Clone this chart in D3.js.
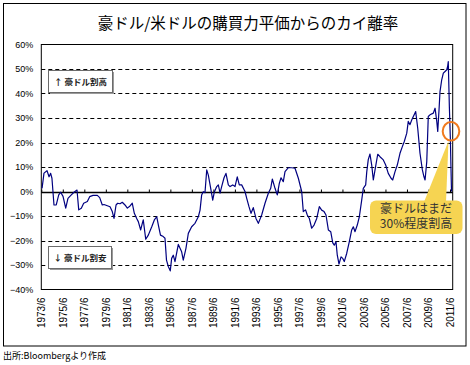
<!DOCTYPE html>
<html><head><meta charset="utf-8">
<script src="https://cdn.jsdelivr.net/npm/d3@7"></script>
<style>
html,body{margin:0;padding:0;background:#fff;}
svg{display:block;}
</style>
</head><body>
<svg id="chart" width="470" height="365"></svg>
<script>
// ---- data (decimal year, deviation %) ----
const years = [1973.57,1973.75,1974.03,1974.22,1974.37,1974.49,1974.68,1974.89,1975.12,1975.30,1975.52,1975.77,1975.98,1976.29,1976.54,1976.82,1976.98,1977.22,1977.44,1977.78,1978.00,1978.31,1978.71,1978.93,1979.17,1979.33,1979.89,1980.10,1980.26,1980.45,1980.60,1980.82,1981.03,1981.28,1981.50,1981.75,1981.96,1982.15,1982.37,1982.52,1982.74,1982.89,1982.98,1983.21,1983.45,1983.77,1984.01,1984.23,1984.40,1984.58,1984.84,1985.00,1985.14,1985.31,1985.49,1985.62,1985.77,1985.93,1986.24,1986.55,1986.70,1986.95,1987.17,1987.48,1987.79,1988.10,1988.26,1988.41,1988.56,1988.72,1988.88,1989.03,1989.25,1989.44,1989.59,1989.81,1989.96,1990.12,1990.27,1990.49,1990.67,1990.89,1991.05,1991.30,1991.51,1991.72,1991.91,1992.13,1992.44,1992.60,1992.81,1993.00,1993.21,1993.46,1993.68,1993.99,1994.30,1994.61,1994.83,1994.98,1995.23,1995.44,1995.63,1995.79,1996.00,1996.16,1996.47,1996.78,1997.09,1997.40,1997.71,1997.86,1998.07,1998.23,1998.42,1998.64,1998.86,1999.11,1999.35,1999.57,1999.79,1999.97,2000.19,2000.41,2000.60,2000.74,2000.90,2001.02,2001.18,2001.37,2001.53,2001.67,2001.90,2002.14,2002.36,2002.51,2002.67,2002.88,2003.07,2003.29,2003.44,2003.66,2003.76,2003.90,2004.06,2004.22,2004.37,2004.53,2004.78,2004.99,2005.30,2005.52,2005.76,2006.02,2006.17,2006.39,2006.60,2006.85,2007.07,2007.25,2007.48,2007.62,2007.78,2007.94,2008.09,2008.31,2008.50,2008.71,2008.93,2009.08,2009.18,2009.34,2009.48,2009.64,2009.95,2010.11,2010.27,2010.36,2010.48,2010.57,2010.73,2010.88,2011.04,2011.20,2011.29,2011.34,2011.44,2011.53,2011.64];
const values = [1.3,7.5,8.5,6.0,7.4,5.4,-5.5,-5.5,-1.4,-0.3,-2.0,-6.8,-2.8,-1.4,-0.3,0.6,-7.5,-6.8,-4.8,-4.1,-2.1,-1.6,-1.6,-2.5,-5.5,-5.3,-6.2,-8.2,-11.0,-5.5,-4.8,-5.0,-4.4,-5.5,-6.8,-5.9,-4.8,-8.9,-11.0,-12.3,-15.7,-13.0,-11.6,-19.5,-17.8,-14.4,-11.6,-10.3,-14.0,-17.8,-18.4,-19.1,-28.0,-30.6,-32.4,-27.3,-26.0,-28.6,-21.6,-24.6,-28.0,-23.2,-17.1,-14.4,-13.0,-10.3,-7.6,-1.4,-0.1,-0.5,8.8,6.7,1.3,-3.5,-0.2,2.0,2.7,-0.7,2.0,5.6,7.4,2.7,2.0,2.7,2.0,6.0,2.7,2.7,0.0,-2.8,-6.2,-8.9,-6.6,-11.0,-13.0,-9.6,-4.8,-0.7,1.3,5.1,1.3,-1.4,3.3,5.6,4.0,8.1,9.7,9.7,9.5,5.4,0.0,-8.2,-7.5,-9.6,-11.0,-15.0,-13.7,-11.0,-6.2,-7.6,-8.2,-9.6,-15.7,-16.4,-21.0,-21.9,-20.5,-26.0,-29.6,-26.7,-27.3,-28.6,-25.2,-20.5,-15.7,-14.4,-16.4,-13.7,-10.3,-3.5,1.3,2.7,8.0,13.0,15.3,10.8,4.7,8.8,15.2,14.2,12.9,10.8,7.4,5.4,4.7,8.1,10.8,15.6,18.3,20.4,23.8,28.6,27.3,29.2,30.6,32.6,25.8,15.6,8.8,6.0,4.7,12.2,30.6,31.3,32.0,34.0,28.6,24.5,33.4,40.8,45.6,48.3,49.0,49.7,51.3,53.0,34.6,22.0,0.0];
const xTickYears = [1973.5,1975.5,1977.5,1979.5,1981.5,1983.5,1985.5,1987.5,1989.5,1991.5,1993.5,1995.5,1997.5,1999.5,2001.5,2003.5,2005.5,2007.5,2009.5,2011.5];
const xTickLabels = ["1973/6","1975/6","1977/6","1979/6","1981/6","1983/6","1985/6","1987/6","1989/6","1991/6","1993/6","1995/6","1997/6","1999/6","2001/6","2003/6","2005/6","2007/6","2009/6","2011/6"];
const yTicks = [-40,-30,-20,-10,0,10,20,30,40,50,60];
const title = "豪ドル/米ドルの購買力平価からのカイ離率";
const noteHigh = "↑ 豪ドル割高";
const noteLow = "↓ 豪ドル割安";
const calloutLines = ["豪ドルはまだ","30%程度割高"];
const source = "出所:Bloombergより作成";

const svg = d3.select("#chart");
const jp = "'Noto Sans CJK JP','Noto Sans',sans-serif";
const num = "'Liberation Sans',Arial,sans-serif";

const L = 41.3, R = 452.7, T = 44.5, B = 289.5;
const x = d3.scaleLinear().domain([1973.5, 2011.5]).range([L, 450]);
const y = d3.scaleLinear().domain([-40, 60]).range([B, T]);

// outer frame
svg.append("rect").attr("x",3.5).attr("y",3.5).attr("width",462.5).attr("height",342.5)
  .attr("fill","#fff").attr("stroke","#000").attr("stroke-width",1);

// title
svg.append("text").attr("x",248).attr("y",29).attr("text-anchor","middle")
  .attr("font-family",jp).attr("font-size",15.5).attr("fill","#000").text(title);

// dashed grid
svg.append("g").selectAll("line").data(yTicks.filter(v => v !== 0 && v !== -40 && v !== 60))
  .join("line").attr("x1",L).attr("x2",R).attr("y1",d=>Math.round(y(d))+0.5).attr("y2",d=>Math.round(y(d))+0.5)
  .attr("stroke","#000").attr("stroke-width",1).attr("stroke-dasharray","4,3");

// plot border
svg.append("rect").attr("x",L).attr("y",T).attr("width",R-L).attr("height",B-T)
  .attr("fill","none").attr("stroke","#000").attr("stroke-width",1);

// y axis labels
const yAxis = svg.append("g").attr("transform",`translate(${L},0)`)
  .call(d3.axisLeft(y).tickValues(yTicks).tickSize(0).tickPadding(8)
    .tickFormat(d => (d < 0 ? "\u2212" + Math.abs(d) : d) + "%"));
yAxis.select(".domain").remove();
yAxis.selectAll("text").attr("font-family",num).attr("font-size",9).attr("fill","#000");

// zero axis with ticks above
const zAxis = svg.append("g").attr("transform",`translate(0,${Math.round(y(0))+0.5})`)
  .call(d3.axisTop(x).tickValues(xTickYears).tickSize(3).tickSizeOuter(0).tickFormat(""));
zAxis.select(".domain").attr("d",`M${L},0H${R}`).attr("stroke","#000").attr("stroke-width",1.3);
zAxis.selectAll(".tick line").attr("stroke","#000");

// x labels (rotated) below bottom
const xAxis = svg.append("g").attr("transform",`translate(0,${B})`)
  .call(d3.axisBottom(x).tickValues(xTickYears).tickSize(0).tickFormat((d,i)=>xTickLabels[i]));
xAxis.select(".domain").remove();
xAxis.selectAll("text").attr("transform","rotate(-90)").attr("text-anchor","end")
  .attr("x",-8).attr("y",0).attr("dy","0.35em")
  .attr("font-family",num).attr("font-size",10).attr("fill","#000");

// line
const line = d3.line().x((d,i)=>x(years[i])).y(d=>y(d));
svg.append("path").datum(values).attr("d",line).attr("fill","none")
  .attr("stroke","#000080").attr("stroke-width",1.2).attr("stroke-linejoin","round");

// note boxes
function noteBox(bx, by, w, h, txt){
  svg.append("rect").attr("x",bx+1.5).attr("y",by+1.5).attr("width",w).attr("height",h).attr("fill","#9a9a9a");
  svg.append("rect").attr("x",bx).attr("y",by).attr("width",w).attr("height",h)
    .attr("fill","#fff").attr("stroke","#6b6b6b").attr("stroke-width",1);
  svg.append("text").attr("x",bx+w/2).attr("y",by+h/2+3.5).attr("text-anchor","middle")
    .attr("font-family",jp).attr("font-size",8.5).attr("font-weight","bold").attr("fill","#222").text(txt);
}
noteBox(48.5, 70.5, 64, 22, noteHigh);
noteBox(48.5, 246.5, 63, 22, noteLow);

// callout
const yellow = "#F6D452";
svg.append("path").attr("d","M424,202 L448.5,141 L446,202 Z").attr("fill",yellow);
svg.append("rect").attr("x",370).attr("y",200.5).attr("width",92.5).attr("height",33.5)
  .attr("rx",6).attr("ry",6).attr("fill",yellow);
calloutLines.forEach((t,i)=>{
  svg.append("text").attr("x",416).attr("y",212.5+i*15.5).attr("text-anchor","middle")
    .attr("font-family",jp).attr("font-size",12).attr("fill","#333").text(t);
});
svg.append("ellipse").attr("cx",451).attr("cy",131.3).attr("rx",8.3).attr("ry",9.3)
  .attr("fill","none").attr("stroke","#F07A1E").attr("stroke-width",2);

// source
svg.append("text").attr("x",3).attr("y",359).attr("font-family",jp).attr("font-size",9)
  .attr("fill","#000").text(source);
</script>
</body></html>
